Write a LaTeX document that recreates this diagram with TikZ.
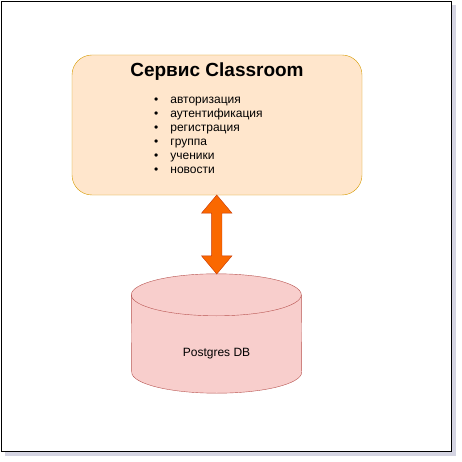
\documentclass[tikz,border=0pt]{standalone}
\usepackage{fontspec}
\setmainfont{Liberation Sans}
\usetikzlibrary{positioning,calc,shapes.arrows}
\definecolor{srvfill}{HTML}{FFE6CC}
\definecolor{srvline}{HTML}{D79B00}
\definecolor{dbfill}{HTML}{F8CECC}
\definecolor{dbline}{HTML}{B85450}
\definecolor{arrfill}{HTML}{FA6800}
\definecolor{arrline}{HTML}{C73500}
\definecolor{frameshadow}{HTML}{D4D4E2}
\begin{document}
\begin{tikzpicture}[x=1pt,y=-1pt,
    item/.style={anchor=base west,inner sep=0pt,font=\fontsize{12}{14}\selectfont}]
        %% Frame
        \useasboundingbox (0,0) rectangle (462,462);
        \fill[frameshadow] (5,5) rectangle (456,456);
        \draw[fill=white] (1,1) rectangle (451,451);
        %% Service
        \node[draw=srvline,fill=srvfill,rectangle,rounded corners=20pt,minimum width=290pt,minimum height=140pt] (srv) at (217,125) {};
        \node[anchor=base,inner sep=0pt,font=\bfseries\fontsize{19}{21}\selectfont] (title) at ($(srv.north)+(0,22)$) {Сервис Classroom};
        \foreach \t [count=\i] in {авторизация,аутентификация,регистрация,группа,ученики,новости}
            \node[item] (item\i) at (154,90+14*\i) {\textbullet\hspace{12pt}\t};
        %% Database
        \node[rectangle,minimum width=170pt,minimum height=119pt,inner sep=0pt] (db) at (216.5,333.5) {};
        \draw[draw=dbline,fill=dbfill] ($(db.north west)+(0,21)$) arc[start angle=180,end angle=360,x radius=85,y radius=21]
            -- ($(db.south east)+(0,-21)$) arc[start angle=0,end angle=180,x radius=85,y radius=21] -- cycle;
        \draw[dbline] ($(db.north west)+(0,21)$) arc[start angle=180,end angle=0,x radius=85,y radius=21];
        \node[font=\fontsize{12}{14}\selectfont] (dblabel) at ($(db.center)+(0,20)$) {Postgres DB};
        %% Link
        \node[draw=arrline,fill=arrfill,double arrow,rotate=90,minimum height=79pt,inner sep=0pt,text height=5pt,text depth=5pt,
              double arrow head extend=10pt,double arrow tip angle=80] (link) at ($(srv.south)!0.5!(db.north)$) {};
\end{tikzpicture}
\end{document}
